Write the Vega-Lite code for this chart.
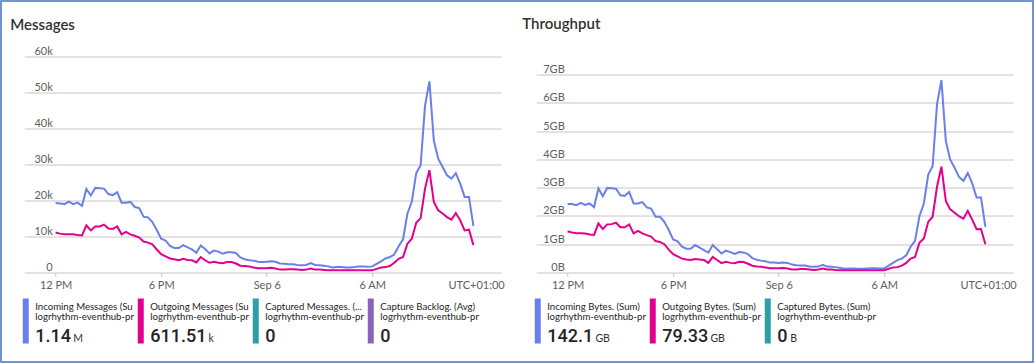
{
  "$schema": "https://vega.github.io/schema/vega-lite/v6.json",
  "background": "white",
  "padding": 0,
  "config": {
    "font": "Segoe UI, Lato, sans-serif",
    "view": {"stroke": null},
    "title": {"fontSize": 15, "fontWeight": 600, "color": "#323130", "anchor": "start", "dx": -14, "baseline": "alphabetic"}
  },
  "datasets": {
    "ts": [
      {"t":"2023-09-05T12:00","im":19300,"om":11100,"ib":2.42,"ob":1.46},
      {"t":"2023-09-05T12:15","im":19200,"om":10800,"ib":2.42,"ob":1.41},
      {"t":"2023-09-05T12:30","im":19000,"om":10600,"ib":2.38,"ob":1.39},
      {"t":"2023-09-05T12:45","im":19700,"om":10600,"ib":2.46,"ob":1.39},
      {"t":"2023-09-05T13:00","im":19000,"om":10600,"ib":2.39,"ob":1.38},
      {"t":"2023-09-05T13:15","im":19400,"om":10400,"ib":2.44,"ob":1.34},
      {"t":"2023-09-05T13:30","im":18500,"om":10300,"ib":2.31,"ob":1.33},
      {"t":"2023-09-05T13:45","im":23200,"om":13100,"ib":2.97,"ob":1.73},
      {"t":"2023-09-05T14:00","im":21400,"om":11700,"ib":2.70,"ob":1.54},
      {"t":"2023-09-05T14:15","im":23500,"om":12800,"ib":2.99,"ob":1.70},
      {"t":"2023-09-05T14:30","im":23400,"om":12800,"ib":2.98,"ob":1.71},
      {"t":"2023-09-05T14:45","im":23300,"om":13300,"ib":2.96,"ob":1.76},
      {"t":"2023-09-05T15:00","im":21800,"om":12200,"ib":2.73,"ob":1.60},
      {"t":"2023-09-05T15:15","im":21500,"om":12100,"ib":2.71,"ob":1.60},
      {"t":"2023-09-05T15:30","im":22300,"om":12800,"ib":2.85,"ob":1.70},
      {"t":"2023-09-05T15:45","im":19400,"om":10600,"ib":2.44,"ob":1.38},
      {"t":"2023-09-05T16:00","im":19400,"om":11300,"ib":2.44,"ob":1.47},
      {"t":"2023-09-05T16:15","im":19600,"om":10600,"ib":2.49,"ob":1.38},
      {"t":"2023-09-05T16:30","im":18200,"om":10200,"ib":2.30,"ob":1.32},
      {"t":"2023-09-05T16:45","im":17900,"om":9700,"ib":2.26,"ob":1.27},
      {"t":"2023-09-05T17:00","im":15500,"om":8600,"ib":1.97,"ob":1.11},
      {"t":"2023-09-05T17:15","im":15300,"om":8300,"ib":1.97,"ob":1.08},
      {"t":"2023-09-05T17:30","im":14000,"om":7800,"ib":1.79,"ob":1.00},
      {"t":"2023-09-05T17:45","im":11800,"om":6400,"ib":1.50,"ob":0.81},
      {"t":"2023-09-05T18:00","im":9400,"om":5100,"ib":1.17,"ob":0.65},
      {"t":"2023-09-05T18:15","im":8900,"om":4500,"ib":1.10,"ob":0.57},
      {"t":"2023-09-05T18:30","im":7400,"om":3900,"ib":0.91,"ob":0.49},
      {"t":"2023-09-05T18:45","im":6800,"om":3700,"ib":0.84,"ob":0.46},
      {"t":"2023-09-05T19:00","im":6800,"om":3400,"ib":0.84,"ob":0.44},
      {"t":"2023-09-05T19:15","im":7600,"om":3800,"ib":0.97,"ob":0.48},
      {"t":"2023-09-05T19:30","im":7000,"om":3500,"ib":0.88,"ob":0.46},
      {"t":"2023-09-05T19:45","im":6400,"om":3400,"ib":0.79,"ob":0.44},
      {"t":"2023-09-05T20:00","im":5500,"om":2800,"ib":0.70,"ob":0.34},
      {"t":"2023-09-05T20:15","im":7500,"om":4300,"ib":0.97,"ob":0.55},
      {"t":"2023-09-05T20:30","im":6500,"om":3400,"ib":0.82,"ob":0.44},
      {"t":"2023-09-05T20:45","im":5300,"om":2700,"ib":0.67,"ob":0.33},
      {"t":"2023-09-05T21:00","im":6100,"om":3000,"ib":0.77,"ob":0.38},
      {"t":"2023-09-05T21:15","im":5800,"om":2700,"ib":0.72,"ob":0.34},
      {"t":"2023-09-05T21:30","im":5200,"om":2600,"ib":0.66,"ob":0.33},
      {"t":"2023-09-05T21:45","im":5600,"om":2900,"ib":0.72,"ob":0.38},
      {"t":"2023-09-05T22:00","im":5600,"om":2900,"ib":0.71,"ob":0.37},
      {"t":"2023-09-05T22:15","im":5400,"om":2500,"ib":0.65,"ob":0.31},
      {"t":"2023-09-05T22:30","im":4200,"om":1900,"ib":0.51,"ob":0.24},
      {"t":"2023-09-05T22:45","im":3700,"om":1800,"ib":0.45,"ob":0.21},
      {"t":"2023-09-05T23:00","im":3400,"om":1700,"ib":0.42,"ob":0.20},
      {"t":"2023-09-05T23:15","im":3300,"om":1400,"ib":0.40,"ob":0.18},
      {"t":"2023-09-05T23:30","im":3000,"om":1200,"ib":0.35,"ob":0.15},
      {"t":"2023-09-05T23:45","im":2900,"om":1200,"ib":0.35,"ob":0.15},
      {"t":"2023-09-06T00:00","im":3000,"om":1200,"ib":0.34,"ob":0.15},
      {"t":"2023-09-06T00:15","im":3100,"om":1300,"ib":0.35,"ob":0.16},
      {"t":"2023-09-06T00:30","im":3000,"om":1100,"ib":0.34,"ob":0.14},
      {"t":"2023-09-06T00:45","im":2500,"om":800,"ib":0.28,"ob":0.11},
      {"t":"2023-09-06T01:00","im":2400,"om":800,"ib":0.26,"ob":0.11},
      {"t":"2023-09-06T01:15","im":2300,"om":900,"ib":0.25,"ob":0.12},
      {"t":"2023-09-06T01:30","im":2300,"om":900,"ib":0.25,"ob":0.12},
      {"t":"2023-09-06T01:45","im":2100,"om":800,"ib":0.21,"ob":0.11},
      {"t":"2023-09-06T02:00","im":2000,"om":700,"ib":0.20,"ob":0.09},
      {"t":"2023-09-06T02:15","im":2100,"om":800,"ib":0.21,"ob":0.11},
      {"t":"2023-09-06T02:30","im":2600,"om":1100,"ib":0.27,"ob":0.14},
      {"t":"2023-09-06T02:45","im":2100,"om":800,"ib":0.21,"ob":0.11},
      {"t":"2023-09-06T03:00","im":2000,"om":800,"ib":0.20,"ob":0.11},
      {"t":"2023-09-06T03:15","im":1900,"om":700,"ib":0.19,"ob":0.09},
      {"t":"2023-09-06T03:30","im":1700,"om":600,"ib":0.16,"ob":0.08},
      {"t":"2023-09-06T03:45","im":1400,"om":600,"ib":0.13,"ob":0.08},
      {"t":"2023-09-06T04:00","im":1500,"om":600,"ib":0.14,"ob":0.08},
      {"t":"2023-09-06T04:15","im":1500,"om":600,"ib":0.14,"ob":0.08},
      {"t":"2023-09-06T04:30","im":1400,"om":600,"ib":0.13,"ob":0.08},
      {"t":"2023-09-06T04:45","im":1400,"om":600,"ib":0.13,"ob":0.08},
      {"t":"2023-09-06T05:00","im":1500,"om":600,"ib":0.14,"ob":0.08},
      {"t":"2023-09-06T05:15","im":1700,"om":600,"ib":0.15,"ob":0.08},
      {"t":"2023-09-06T05:30","im":1700,"om":600,"ib":0.15,"ob":0.08},
      {"t":"2023-09-06T05:45","im":1600,"om":600,"ib":0.14,"ob":0.08},
      {"t":"2023-09-06T06:00","im":1700,"om":600,"ib":0.15,"ob":0.08},
      {"t":"2023-09-06T06:15","im":2400,"om":1000,"ib":0.24,"ob":0.13},
      {"t":"2023-09-06T06:30","im":3100,"om":1400,"ib":0.34,"ob":0.18},
      {"t":"2023-09-06T06:45","im":3900,"om":1500,"ib":0.44,"ob":0.19},
      {"t":"2023-09-06T07:00","im":4300,"om":1800,"ib":0.49,"ob":0.24},
      {"t":"2023-09-06T07:15","im":5000,"om":2700,"ib":0.61,"ob":0.34},
      {"t":"2023-09-06T07:30","im":7300,"om":3800,"ib":0.91,"ob":0.49},
      {"t":"2023-09-06T07:45","im":9200,"om":4300,"ib":1.12,"ob":0.55},
      {"t":"2023-09-06T08:00","im":16400,"om":8000,"ib":1.99,"ob":1.05},
      {"t":"2023-09-06T08:15","im":19700,"om":9400,"ib":2.44,"ob":1.20},
      {"t":"2023-09-06T08:30","im":27600,"om":13800,"ib":3.46,"ob":1.79},
      {"t":"2023-09-06T08:45","im":29800,"om":15100,"ib":3.76,"ob":1.97},
      {"t":"2023-09-06T09:00","im":46300,"om":23300,"ib":5.95,"ob":3.03},
      {"t":"2023-09-06T09:15","im":53100,"om":28400,"ib":6.80,"ob":3.74},
      {"t":"2023-09-06T09:30","im":36700,"om":19600,"ib":4.65,"ob":2.53},
      {"t":"2023-09-06T09:45","im":31600,"om":17300,"ib":3.99,"ob":2.23},
      {"t":"2023-09-06T10:00","im":29300,"om":16400,"ib":3.70,"ob":2.11},
      {"t":"2023-09-06T10:15","im":27000,"om":15400,"ib":3.38,"ob":1.99},
      {"t":"2023-09-06T10:30","im":26100,"om":14700,"ib":3.24,"ob":1.90},
      {"t":"2023-09-06T10:45","im":27600,"om":16500,"ib":3.52,"ob":2.18},
      {"t":"2023-09-06T11:00","im":24700,"om":14500,"ib":3.15,"ob":1.87},
      {"t":"2023-09-06T11:15","im":21000,"om":11700,"ib":2.65,"ob":1.53},
      {"t":"2023-09-06T11:30","im":21000,"om":11900,"ib":2.65,"ob":1.54},
      {"t":"2023-09-06T11:45","im":12900,"om":7600,"ib":1.61,"ob":1.00}
    ],
    "tilesMsg": [
      {"tile":0,"name":"Incoming Messages (Sum)","res":"logrhythm-eventhub-prod","val":"1.14","unit":"M"},
      {"tile":1,"name":"Outgoing Messages (Sum)","res":"logrhythm-eventhub-prod","val":"611.51","unit":"k"},
      {"tile":2,"name":"Captured Messages. (...","res":"logrhythm-eventhub-prod","val":"0","unit":""},
      {"tile":3,"name":"Capture Backlog. (Avg)","res":"logrhythm-eventhub-prod","val":"0","unit":""}
    ],
    "tilesBytes": [
      {"tile":0,"name":"Incoming Bytes. (Sum)","res":"logrhythm-eventhub-prod","val":"142.1","unit":"GB"},
      {"tile":1,"name":"Outgoing Bytes. (Sum)","res":"logrhythm-eventhub-prod","val":"79.33","unit":"GB"},
      {"tile":2,"name":"Captured Bytes. (Sum)","res":"logrhythm-eventhub-prod","val":"0","unit":"B"}
    ]
  },
  "vconcat": [
    {
      "width": 1032,
      "height": 361,
      "data": {"values": []},
      "mark": "rect",
      "view": {"stroke": "#4472C4", "strokeWidth": 1.5, "fill": null}
    },
    {
      "hconcat": [
        {
          "width": 1,
          "height": 1,
          "data": {"values": []},
          "mark": "rect"
        },
        {
          "hconcat": [
            {
              "vconcat": [
                {
                  "width": 477,
                  "height": 216,
                  "title": {"text": "Messages", "offset": 13},
                  "data": {"name": "ts"},
                  "encoding": {
                    "x": {
                      "field": "t", "type": "temporal",
                      "scale": {"domain": [{"year":2023,"month":9,"date":5,"hours":10,"minutes":13},{"year":2023,"month":9,"date":6,"hours":13,"minutes":20}]},
                      "axis": {
                        "values": [{"year":2023,"month":9,"date":5,"hours":12},{"year":2023,"month":9,"date":5,"hours":18},{"year":2023,"month":9,"date":6,"hours":0},{"year":2023,"month":9,"date":6,"hours":6}],
                        "labelExpr": "hours(datum.value) == 0 ? timeFormat(datum.value, '%b %-d') : timeFormat(datum.value, '%-I %p')",
                        "grid": false, "domain": false, "ticks": true, "tickSize": 4, "tickColor": "#c8c6c4",
                        "labelPadding": 3, "labelFontSize": 11, "labelColor": "#605e5c", "labelFlush": false,
                        "title": "UTC+01:00", "titleX": 480, "titleY": 7, "titleAlign": "right", "titleBaseline": "top",
                        "titleFontSize": 11, "titleFontWeight": "normal", "titleColor": "#605e5c"
                      }
                    },
                    "y": {
                      "field": "im", "type": "quantitative",
                      "scale": {"domain": [0, 60000]},
                      "axis": {
                        "values": [0,10000,20000,30000,40000,50000,60000],
                        "labelExpr": "datum.value == 0 ? '0' : (datum.value / 1000) + 'k'",
                        "title": null, "grid": true, "gridColor": "#c8c6c4", "domain": false, "ticks": false, "tickSize": 0,
                        "labelAlign": "right", "labelPadding": -28, "labelBaseline": "alphabetic", "labelOffset": -2,
                        "labelFontSize": 11, "labelColor": "#605e5c"
                      }
                    }
                  },
                  "layer": [
                    {
                      "data": {"values": [{"z": 0}]},
                      "mark": {"type": "rule", "color": "#8764B8", "strokeWidth": 2},
                      "encoding": {
                        "x": {"datum": {"year":2023,"month":9,"date":5,"hours":12}, "type": "temporal"},
                        "x2": {"datum": {"year":2023,"month":9,"date":6,"hours":11,"minutes":45}},
                        "y": {"field": "z", "type": "quantitative"}
                      }
                    },
                    {"mark": {"type": "line", "color": "#6B7FEB", "strokeWidth": 2}},
                    {"mark": {"type": "line", "color": "#E3008C", "strokeWidth": 2}, "encoding": {"y": {"field": "om", "type": "quantitative"}}}
                  ]
                },
                {
                  "width": 477,
                  "height": 45,
                  "data": {"name": "tilesMsg"},
                  "encoding": {"x": {"field": "tile", "type": "quantitative", "scale": {"domain": [0, 4.1478]}, "axis": null}},
                  "layer": [
                    {"mark": {"type": "rule", "strokeWidth": 6, "xOffset": 1.5},
                     "encoding": {"color": {"field": "tile", "type": "nominal", "scale": {"domain": [0,1,2,3], "range": ["#6B7FEB","#E3008C","#2AA0A4","#8764B8"]}, "legend": null}}},
                    {"mark": {"type": "text", "align": "left", "baseline": "middle", "dx": 11, "dy": -14, "fontSize": 9.6, "limit": 104, "ellipsis": " ", "color": "#252423"},
                     "encoding": {"text": {"field": "name"}}},
                    {"mark": {"type": "text", "align": "left", "baseline": "middle", "dx": 11, "dy": -4, "fontSize": 9.6, "limit": 104, "ellipsis": " ", "color": "#252423"},
                     "encoding": {"text": {"field": "res"}}},
                    {"mark": {"type": "text", "align": "left", "baseline": "alphabetic", "dx": 11, "dy": 21, "fontSize": 18, "fontWeight": 500, "font": "Roboto", "color": "#252423"},
                     "encoding": {"text": {"field": "val"}}},
                    {"mark": {"type": "text", "align": "left", "baseline": "alphabetic", "dy": 21, "fontSize": 10.5, "color": "#323130",
                              "dx": {"expr": "14 + 10.1*length(replace(datum.val, '.', '')) + 4.8*(length(datum.val) - length(replace(datum.val, '.', '')))"}},
                     "encoding": {"text": {"field": "unit"}}}
                  ]
                }
              ],
              "spacing": 26,
              "bounds": "flush"
            },
            {
              "vconcat": [
                {
                  "width": 477,
                  "height": 216,
                  "title": {"text": "Throughput", "offset": 25},
                  "data": {"name": "ts"},
                  "encoding": {
                    "x": {
                      "field": "t", "type": "temporal",
                      "scale": {"domain": [{"year":2023,"month":9,"date":5,"hours":10,"minutes":13},{"year":2023,"month":9,"date":6,"hours":13,"minutes":20}]},
                      "axis": {
                        "values": [{"year":2023,"month":9,"date":5,"hours":12},{"year":2023,"month":9,"date":5,"hours":18},{"year":2023,"month":9,"date":6,"hours":0},{"year":2023,"month":9,"date":6,"hours":6}],
                        "labelExpr": "hours(datum.value) == 0 ? timeFormat(datum.value, '%b %-d') : timeFormat(datum.value, '%-I %p')",
                        "grid": false, "domain": false, "ticks": true, "tickSize": 4, "tickColor": "#c8c6c4",
                        "labelPadding": 3, "labelFontSize": 11, "labelColor": "#605e5c", "labelFlush": false,
                        "title": "UTC+01:00", "titleX": 480, "titleY": 7, "titleAlign": "right", "titleBaseline": "top",
                        "titleFontSize": 11, "titleFontWeight": "normal", "titleColor": "#605e5c"
                      }
                    },
                    "y": {
                      "field": "ib", "type": "quantitative",
                      "scale": {"domain": [0, 7.635]},
                      "axis": {
                        "values": [0,1,2,3,4,5,6,7],
                        "labelExpr": "datum.value == 0 ? '0B' : datum.value + 'GB'",
                        "title": null, "grid": true, "gridColor": "#c8c6c4", "domain": false, "ticks": false, "tickSize": 0,
                        "labelAlign": "right", "labelPadding": -28, "labelBaseline": "alphabetic", "labelOffset": -2,
                        "labelFontSize": 11, "labelColor": "#605e5c"
                      }
                    }
                  },
                  "layer": [
                    {
                      "data": {"values": [{"z": 0}]},
                      "mark": {"type": "rule", "color": "#2AA0A4", "strokeWidth": 2},
                      "encoding": {
                        "x": {"datum": {"year":2023,"month":9,"date":5,"hours":12}, "type": "temporal"},
                        "x2": {"datum": {"year":2023,"month":9,"date":6,"hours":11,"minutes":45}},
                        "y": {"field": "z", "type": "quantitative"}
                      }
                    },
                    {"mark": {"type": "line", "color": "#6B7FEB", "strokeWidth": 2}},
                    {"mark": {"type": "line", "color": "#E3008C", "strokeWidth": 2}, "encoding": {"y": {"field": "ob", "type": "quantitative"}}}
                  ]
                },
                {
                  "width": 477,
                  "height": 45,
                  "data": {"name": "tilesBytes"},
                  "encoding": {"x": {"field": "tile", "type": "quantitative", "scale": {"domain": [0, 4.1478]}, "axis": null}},
                  "layer": [
                    {"mark": {"type": "rule", "strokeWidth": 6, "xOffset": 1.5},
                     "encoding": {"color": {"field": "tile", "type": "nominal", "scale": {"domain": [0,1,2], "range": ["#6B7FEB","#E3008C","#2AA0A4"]}, "legend": null}}},
                    {"mark": {"type": "text", "align": "left", "baseline": "middle", "dx": 11, "dy": -14, "fontSize": 9.6, "limit": 104, "ellipsis": " ", "color": "#252423"},
                     "encoding": {"text": {"field": "name"}}},
                    {"mark": {"type": "text", "align": "left", "baseline": "middle", "dx": 11, "dy": -4, "fontSize": 9.6, "limit": 104, "ellipsis": " ", "color": "#252423"},
                     "encoding": {"text": {"field": "res"}}},
                    {"mark": {"type": "text", "align": "left", "baseline": "alphabetic", "dx": 11, "dy": 21, "fontSize": 18, "fontWeight": 500, "font": "Roboto", "color": "#252423"},
                     "encoding": {"text": {"field": "val"}}},
                    {"mark": {"type": "text", "align": "left", "baseline": "alphabetic", "dy": 21, "fontSize": 10.5, "color": "#323130",
                              "dx": {"expr": "14 + 10.1*length(replace(datum.val, '.', '')) + 4.8*(length(datum.val) - length(replace(datum.val, '.', '')))"}},
                     "encoding": {"text": {"field": "unit"}}}
                  ]
                }
              ],
              "spacing": 26,
              "bounds": "flush"
            }
          ],
          "spacing": 18,
          "bounds": "full"
        }
      ],
      "spacing": 8.25,
      "bounds": "full"
    }
  ],
  "spacing": -346.5,
  "align": "none",
  "bounds": "full"
}
